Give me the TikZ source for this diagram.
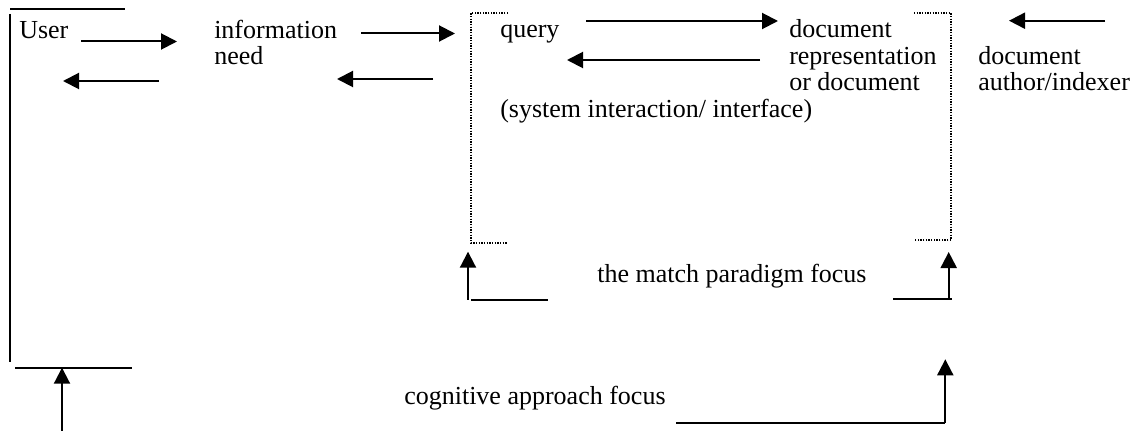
\documentclass[tikz,border=0pt]{standalone}
\usepackage{fontspec}
\setmainfont{Liberation Serif}
\usetikzlibrary{arrows.meta}
\begin{document}
\begin{tikzpicture}[x=0.75pt,y=-0.75pt,
  label text/.style={anchor=base west, inner sep=0pt, align=left,
    font=\fontsize{19.5pt}{20pt}\selectfont},
  rule/.style={line width=1.5pt},
  flow/.style={line width=1.5pt, -{Triangle[length=12pt,width=12pt]}},
  frame/.style={line width=1pt, dash pattern=on 1pt off 1pt}]
\useasboundingbox (0,0) rectangle (1139,431);

% --- texts (multi-line nodes sit on the baseline of their last line) ---
\node[label text] (user)      at (19,38.3)   {User};
\node[label text] (need)      at (214,65)    {information\\need};
\node[label text] (query)     at (500,37.7)  {query};
\node[label text] (docrep)    at (789,91)    {document\\representation\\or document};
\node[label text] (iface)     at (500,117.7) {(system interaction/ interface)};
\node[label text] (author)    at (978,91)    {document\\author/indexer};
\node[label text] (match)     at (597,282)   {the match paradigm focus};
\node[label text] (cognitive) at (404,404)   {cognitive approach focus};

% --- user bracket ---
\coordinate (ut1) at (10,9.5);   \coordinate (ut2) at (125,9.5);
\coordinate (uv1) at (10,14);    \coordinate (uv2) at (10,362);
\coordinate (ub1) at (15,367.7); \coordinate (ub2) at (131.7,367.7);
\coordinate (ua1) at (62,431);   \coordinate (ua2) at (62,367.7);
\draw[rule] (ut1) -- (ut2);
\draw[rule] (uv1) -- (uv2);
\draw[rule] (ub1) -- (ub2);
\draw[flow] (ua1) -- (ua2);

% --- exchange arrows ---
\coordinate (a1s) at (81,41.5);   \coordinate (a1e) at (177,41.5);
\coordinate (a2s) at (159,81);    \coordinate (a2e) at (63,81);
\coordinate (a3s) at (361,33.5);  \coordinate (a3e) at (455,33.5);
\coordinate (a4s) at (433,79);    \coordinate (a4e) at (337,79);
\coordinate (a5s) at (586,21);    \coordinate (a5e) at (778,21);
\coordinate (a6s) at (760,60);    \coordinate (a6e) at (567,60);
\coordinate (a7s) at (1105,20.7); \coordinate (a7e) at (1009,20.7);
\draw[flow] (a1s) -- (a1e);
\draw[flow] (a2s) -- (a2e);
\draw[flow] (a3s) -- (a3e);
\draw[flow] (a4s) -- (a4e);
\draw[flow] (a5s) -- (a5e);
\draw[flow] (a6s) -- (a6e);
\draw[flow] (a7s) -- (a7e);

% --- dotted system frame ---
\coordinate (fl1) at (508,13);  \coordinate (fl2) at (471,13);
\coordinate (fl3) at (471,243); \coordinate (fl4) at (508,243);
\coordinate (fr1) at (914,13);  \coordinate (fr2) at (951,13);
\coordinate (fr3) at (951,240); \coordinate (fr4) at (914,240);
\draw[frame] (fl1) -- (fl2) -- (fl3) -- (fl4);
\draw[frame] (fr1) -- (fr2) -- (fr3) -- (fr4);

% --- match paradigm markers ---
\coordinate (ml1) at (468,299.5); \coordinate (ml2) at (468,251.7);
\coordinate (ml3) at (471,300);   \coordinate (ml4) at (548.3,300);
\coordinate (mr1) at (948.7,298.7); \coordinate (mr2) at (948.7,252);
\coordinate (mr3) at (893,298.7);   \coordinate (mr4) at (951.7,298.7);
\draw[flow] (ml1) -- (ml2);
\draw[rule] (ml3) -- (ml4);
\draw[flow] (mr1) -- (mr2);
\draw[rule] (mr3) -- (mr4);

% --- cognitive approach marker ---
\coordinate (c1) at (676,423.3); \coordinate (c2) at (945.3,423.3);
\coordinate (c3) at (945.3,359.3);
\draw[rule] (c1) -- (c2);
\draw[flow] (c2) -- (c3);
\end{tikzpicture}
\end{document}
